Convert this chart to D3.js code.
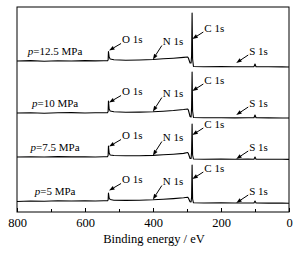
<!DOCTYPE html>
<html>
<head>
<meta charset="utf-8">
<script src="https://cdn.jsdelivr.net/npm/d3@7"></script>
<style>
  body { margin: 0; background: #fff; }
</style>
</head>
<body>
<svg id="chart"></svg>
<script>
// binding energies (eV) shared by all spectra
var energies = [800, 760, 720, 680, 640, 600, 570, 545, 534, 532, 531, 529, 526, 515, 480, 440, 400, 370, 340, 310,
                298, 296, 291, 288, 286.5, 285, 283.5, 281, 250, 200, 160, 120, 103, 100, 97, 60, 20, 0];

var pressures = ["12.5", "10", "7.5", "5"];
var offsets = [151, 99, 55, 11];   // vertical stacking of spectra (a.u.)

var int125 = [0, 0.4, -0.2, 0.3, 0, 0.4, 0.1, 0.3, 0.2, 1, 9.5, 4, 2, 1.2, 0.8, 1, 1.5, 2.2, 2.8, 3.6,
              4, 3, -2, -2, 5, 48, 2, -5.5, -5.8, -5.6, -5.8, -5.7, -5.6, -3, -5.7, -5.8, -5.9, -6];
var int10  = [0, 0.3, -0.3, 0.2, 0.4, 0, 0.3, 0.2, 0.3, 1.5, 12, 4, 2, 1.2, 0.8, 0.9, 1.2, 1.8, 2.5, 3.5,
              4, 3, -3.5, -4, 5, 41, 2, -4.5, -4.8, -4.7, -4.9, -4.8, -4.7, -2, -4.8, -4.9, -5, -5];
var int75  = [0, 0.3, 0, 0.4, 0.1, 0.3, 0, 0.2, 0.3, 1.5, 11, 4, 2, 1.5, 1.2, 1.3, 1.6, 2.2, 2.8, 3.6,
              4.5, 3.5, -1.5, -1.5, 5, 33, 2, -2, -2.2, -2.1, -2.2, -2.1, -2.2, 0, -2.2, -2.3, -2.3, -2.4];
var int5   = [-0.5, 0, -0.3, 0.2, 0, 0.2, 0, 0.2, 0.2, 1, 8, 3, 1.5, 0.8, 0.6, 0.8, 1.2, 1.8, 2.4, 3.2,
              3.8, 3, -0.8, -1, 4, 36, 2, -1.8, -2, -1.9, -2, -2, -2, 0, -2, -2.1, -2.1, -2.2];
var spectra = [int125, int10, int75, int5];

var peakNames = ["O 1s", "N 1s", "C 1s", "S 1s"];
var xTicks = [800, 600, 400, 200, 0];

var width = 302, height = 253;
var margin = {left: 17, right: 13, top: 7, bottom: 41};
var serif = "'Liberation Serif', 'Times New Roman', 'DejaVu Serif', serif";

var svg = d3.select("#chart").attr("width", width).attr("height", height);

var x = d3.scaleLinear().domain([800, 0]).range([margin.left, width - margin.right]);
var y = d3.scaleLinear().domain([0, 205]).range([height - margin.bottom, margin.top]);

var line = d3.line().x(d => x(d[0])).y(d => y(d[1]));

spectra.forEach(function(vals, i) {
  var pts = energies.map((e, j) => [e, vals[j] + offsets[i]]);
  svg.append("path")
      .attr("d", line(pts))
      .attr("fill", "none")
      .attr("stroke", "#000")
      .attr("stroke-width", 1.1)
      .attr("stroke-linejoin", "round");

  var base = y(offsets[i]);
  var t = svg.append("text")
      .attr("x", x(688))
      .attr("y", base - 6)
      .attr("text-anchor", "middle")
      .style("font-family", serif)
      .style("font-size", "11px");
  t.append("tspan").style("font-style", "italic").text("p");
  t.append("tspan").text("=" + pressures[i] + " MPa");
});

// peak annotations: label energy, label offset above baseline, arrow vector
var annot = [
  {e: 491, dy: -21.5, ax: -12, ay: 7},
  {e: 371, dy: -19.5, ax: -9,  ay: 14},
  {e: 249, dy: -33,   ax: -11, ay: 7},
  {e: 117, dy: -10,   ax: -12, ay: 8}
];

spectra.forEach(function(vals, i) {
  var base = y(offsets[i]);
  annot.forEach(function(a, k) {
    var lx = x(a.e), ly = base + a.dy;
    svg.append("text")
        .attr("x", lx)
        .attr("y", ly)
        .attr("dy", "0.35em")
        .style("font-family", serif)
        .style("font-size", "11px")
        .text(peakNames[k]);
    var x0 = lx - 1, y0 = ly + 4, x1 = x0 + a.ax, y1 = y0 + a.ay;
    var ang = Math.atan2(y1 - y0, x1 - x0);
    var hl = 5.5, hw = 2;
    var bx = x1 - hl * Math.cos(ang), by = y1 - hl * Math.sin(ang);
    svg.append("line")
        .attr("x1", x0).attr("y1", y0).attr("x2", bx).attr("y2", by)
        .attr("stroke", "#000").attr("stroke-width", 1);
    svg.append("path")
        .attr("d", "M" + x1 + "," + y1 +
                   "L" + (bx - hw * Math.sin(ang)) + "," + (by + hw * Math.cos(ang)) +
                   "L" + (bx + hw * Math.sin(ang)) + "," + (by - hw * Math.cos(ang)) + "Z")
        .attr("fill", "#000");
  });
});

// frame
svg.append("rect")
    .attr("x", margin.left).attr("y", margin.top)
    .attr("width", width - margin.left - margin.right)
    .attr("height", height - margin.top - margin.bottom)
    .attr("fill", "none").attr("stroke", "#000").attr("stroke-width", 1);

var xAxis = d3.axisBottom(x).tickValues(xTicks).tickSizeInner(-4).tickSizeOuter(0).tickPadding(6);
var gx = svg.append("g")
    .attr("transform", "translate(0," + (height - margin.bottom) + ")")
    .call(xAxis);
gx.select(".domain").remove();
gx.selectAll("text").style("font-family", serif).style("font-size", "12.5px");

var minor = d3.axisBottom(x).tickValues([700, 500, 300, 100]).tickSize(-3).tickFormat("");
var gm = svg.append("g")
    .attr("transform", "translate(0," + (height - margin.bottom) + ")")
    .call(minor);
gm.select(".domain").remove();

svg.append("text")
    .attr("x", (margin.left + width - margin.right) / 2 + 1)
    .attr("y", 243)
    .attr("text-anchor", "middle")
    .style("font-family", serif)
    .style("font-size", "12.5px")
    .text("Binding energy / eV");
</script>
</body>
</html>
